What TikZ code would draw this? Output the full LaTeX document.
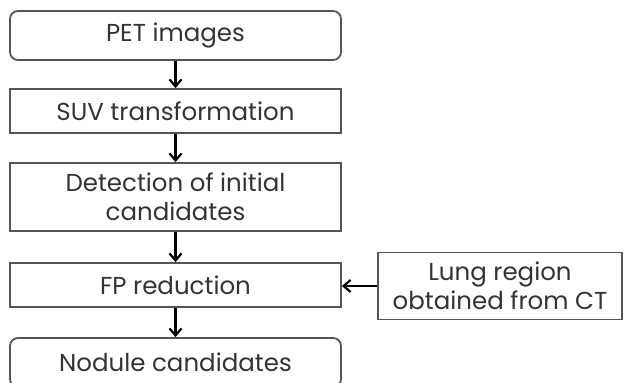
\documentclass[tikz,border=0pt]{standalone}
\usepackage{fontspec}
\setmainfont{Poppins}
\usetikzlibrary{positioning, arrows.meta}

\definecolor{boxgray}{HTML}{555555}
\definecolor{textgray}{HTML}{333333}

\tikzset{
  box/.style={draw=boxgray, line width=1.8pt, minimum width=331pt, text=textgray, align=center, inner sep=0pt},
  rbox/.style={box, rounded corners=8pt},
  flow/.style={black, line width=2.2pt, -{Straight Barb[length=7pt, width=12pt]}}
}

\begin{document}
\begin{tikzpicture}[x=1pt, y=-1pt, font=\fontsize{24.5}{29}\selectfont]
  \useasboundingbox (0,0) rectangle (625,383);

  \draw (175.5,35.5) node[rbox, minimum height=49pt] (pet) {PET images};
  \draw (175.5,111) node[box, minimum height=44pt] (suv) {SUV transformation};
  \draw (175.5,197) node[box, minimum height=68pt] (det) {Detection of initial\\candidates};
  \draw (175.5,285) node[box, minimum height=44pt] (fp) {FP reduction};
  \draw (175.5,362.5) node[rbox, minimum height=49pt] (nod) {Nodule candidates};

  \draw (500,286) node[box, minimum width=244pt, minimum height=67pt] (lung) {Lung region\\obtained from CT};

  \draw[flow] (pet) -- (suv);
  \draw[flow] (suv) -- (det);
  \draw[flow] (det) -- (fp);
  \draw[flow] (fp) -- (nod);
  \draw[flow] (lung.west) -- (fp.east |- lung.west);

\end{tikzpicture}
\end{document}
